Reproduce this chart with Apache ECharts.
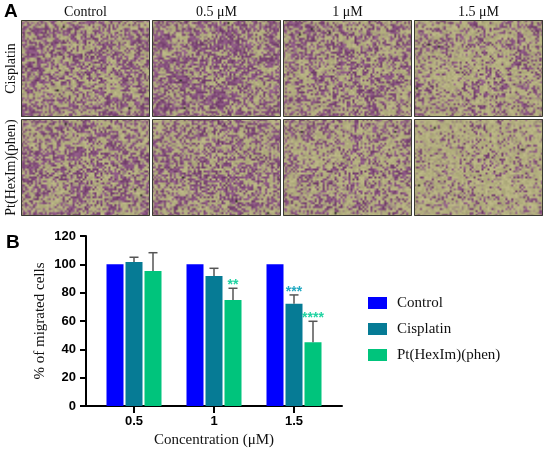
<!DOCTYPE html>
<html>
<head>
<meta charset="utf-8">
<script src="https://cdn.jsdelivr.net/npm/echarts@6/dist/echarts.min.js"></script>
<style>
html,body{margin:0;padding:0;background:#fff;}
#main{width:550px;height:452px;}
</style>
</head>
<body>
<div id="main"></div>
<script>
// ---- Data ----
const concentrations = [0.5, 1, 1.5];
const seriesNames = ['Control', 'Cisplatin', 'Pt(HexIm)(phen)'];
const controlValues = [100, 100, 100];
const cisplatinValues = [101.6, 91.8, 72.2];
const cisplatinErrTop = [105, 97.2, 78.4];
const ptValues = [95.3, 74.8, 45];
const ptErrTop = [108.2, 83.1, 59.8];
const cisplatinSig = ['', '', '***'];
const ptSig = ['', '**', '****'];
const yTicks = [0, 20, 40, 60, 80, 100, 120];

// Panel A labels
const columnTitles = ['Control', '0.5 \u03bcM', '1 \u03bcM', '1.5 \u03bcM'];
const rowTitles = ['Cisplatin', 'Pt(HexIm)(phen)'];
const stainDensity = [[0.44, 0.50, 0.40, 0.28], [0.44, 0.40, 0.33, 0.16]];

const colors = ['#0000ff', '#067b95', '#00c47c'];
const sigColors = ['#23a9c2', '#21d3a2'];
const BAR_W = 17, BAR_GAP = 2;

// ---- Micrograph-like textures (decoration only) ----
function makeTexture(w, h, density, seed) {
  const w2 = Math.ceil(w / 2), h2 = Math.ceil(h / 2);
  const c = document.createElement('canvas');
  c.width = w2; c.height = h2;
  const ctx = c.getContext('2d');
  const img = ctx.createImageData(w2, h2);
  let s = seed >>> 0;
  const hash = () => { s = (Math.imul(s, 1664525) + 1013904223) >>> 0; return s / 4294967296; };
  const G = 4;
  const gw = Math.ceil(w2 / G) + 2, gh = Math.ceil(h2 / G) + 2;
  const field = [];
  for (let i = 0; i < gw * gh; i++) field.push(hash());
  const fAt = (x, y) => {
    const gx = x / G, gy = y / G;
    const x0 = Math.floor(gx), y0 = Math.floor(gy), tx = gx - x0, ty = gy - y0;
    const a = field[y0 * gw + x0], b = field[y0 * gw + x0 + 1];
    const c2 = field[(y0 + 1) * gw + x0], d = field[(y0 + 1) * gw + x0 + 1];
    return (a * (1 - tx) + b * tx) * (1 - ty) + (c2 * (1 - tx) + d * tx) * ty;
  };
  for (let y = 0; y < h2; y++) {
    for (let x = 0; x < w2; x++) {
      const f = fAt(x, y);
      const p = density * (0.3 + 1.4 * f);
      const n = hash();
      let r, g, b;
      if (n < p) {
        const t = hash();
        r = 108 + t * 45; g = 55 + t * 45; b = 102 + t * 40;
      } else if (n < p + 0.12) {
        const t = hash();
        r = 150 + t * 20; g = 130 + t * 20; b = 120 + t * 15;
      } else {
        const t = hash() * 24 - 12;
        r = 180 + t; g = 176 + t; b = 128 + t * 0.8;
      }
      const k = (y * w2 + x) * 4;
      img.data[k] = r; img.data[k + 1] = g; img.data[k + 2] = b; img.data[k + 3] = 255;
    }
  }
  ctx.putImageData(img, 0, 0);
  for (let k = 0; k < 3; k++) {
    ctx.fillStyle = '#2a2a22';
    ctx.fillRect(Math.floor(hash() * w2), Math.floor(hash() * h2), 1, 1);
  }
  return c;
}

const graphics = [];
const cellX = [21, 152, 283, 414], cellY = [20, 119], cellW = 129, cellH = 97;
graphics.push({type: 'text', left: 4, top: 2, style: {text: 'A', font: 'bold 19px "Liberation Sans", Arial, sans-serif', fill: '#000'}});
graphics.push({type: 'text', left: 6, top: 233, style: {text: 'B', font: 'bold 19px "Liberation Sans", Arial, sans-serif', fill: '#000'}});
columnTitles.forEach((t, i) => {
  graphics.push({type: 'text', x: cellX[i] + cellW / 2, y: 12,
    style: {text: t, x: 0, y: 0, align: 'center', verticalAlign: 'middle', font: '14px "Liberation Serif", "Times New Roman", serif', fill: '#111'}});
});
rowTitles.forEach((t, r) => {
  graphics.push({type: 'text', x: 11, y: cellY[r] + cellH / 2, rotation: Math.PI / 2,
    style: {text: t, x: 0, y: 0, align: 'center', verticalAlign: 'middle', font: '14px "Liberation Serif", "Times New Roman", serif', fill: '#111'}});
  for (let c = 0; c < 4; c++) {
    graphics.push({type: 'image', x: cellX[c], y: cellY[r],
      style: {image: makeTexture(cellW, cellH, stainDensity[r][c], 12345 + r * 97 + c * 31), width: cellW, height: cellH}});
    graphics.push({type: 'rect', shape: {x: cellX[c] + 0.5, y: cellY[r] + 0.5, width: cellW - 1, height: cellH - 1},
      style: {fill: 'none', stroke: '#3a3a32', lineWidth: 1}});
  }
});

// ---- Chart ----
const chart = echarts.init(document.getElementById('main'), null, {renderer: 'canvas'});

function errorSeries(name, values, tops, sig, idx, sigColor) {
  const data = concentrations.map((c, i) => [c, values[i], tops[i], sig[i]]);
  const offset = (idx - 1) * (BAR_W + BAR_GAP);
  return {
    type: 'custom', name: name, silent: true, z: 5,
    encode: {x: 0, y: [1, 2]},
    data: data,
    renderItem: function (params, api) {
      const base = api.coord([api.value(0), api.value(1)]);
      const top = api.coord([api.value(0), api.value(2)]);
      const x = base[0] + offset;
      const children = [
        {type: 'line', shape: {x1: x, y1: base[1], x2: x, y2: top[1]}, style: {stroke: '#555', lineWidth: 1.5}},
        {type: 'line', shape: {x1: x - 4.5, y1: top[1], x2: x + 4.5, y2: top[1]}, style: {stroke: '#555', lineWidth: 1.5}}
      ];
      const s = data[params.dataIndex][3];
      if (s) {
        children.push({type: 'text', x: x, y: top[1] - 3,
          style: {text: s, x: 0, y: 0, align: 'center', verticalAlign: 'middle', font: 'bold 14px "Liberation Sans", Arial, sans-serif', fill: sigColor}});
      }
      return {type: 'group', children: children};
    }
  };
}

const option = {
  animation: false,
  backgroundColor: '#fff',
  graphic: graphics,
  grid: {left: 86, right: 208, top: 236, bottom: 46},
  legend: {
    data: seriesNames,
    orient: 'vertical', left: 363, top: 290,
    itemWidth: 19, itemHeight: 12, itemGap: 10,
    icon: 'rect',
    textStyle: {fontFamily: '"Liberation Serif", "Times New Roman", serif', fontSize: 15, color: '#111', lineHeight: 16, padding: [0, 0, 0, 5]}
  },
  xAxis: {
    type: 'value', min: 0.2, max: 1.8,
    name: 'Concentration (\u03bcM)', nameLocation: 'middle', nameGap: 27,
    nameTextStyle: {fontFamily: '"Liberation Serif", "Times New Roman", serif', fontSize: 15, color: '#111'},
    splitLine: {show: false},
    axisLine: {show: true, lineStyle: {color: '#000', width: 2}},
    axisTick: {show: true, length: 7, lineStyle: {color: '#000', width: 2}, customValues: concentrations},
    axisLabel: {customValues: concentrations, margin: 9, formatter: v => String(v),
      fontFamily: '"Liberation Sans", Arial, sans-serif', fontWeight: 'bold', fontSize: 13, color: '#000'}
  },
  yAxis: {
    type: 'value', min: 0, max: 120, interval: 20,
    name: '% of migrated cells', nameLocation: 'middle', nameGap: 38,
    nameTextStyle: {fontFamily: '"Liberation Serif", "Times New Roman", serif', fontSize: 15, color: '#111'},
    splitLine: {show: false},
    axisLine: {show: true, lineStyle: {color: '#000', width: 2}},
    axisTick: {show: true, length: 6, lineStyle: {color: '#000', width: 2}},
    axisLabel: {margin: 10, fontFamily: '"Liberation Sans", Arial, sans-serif', fontWeight: 'bold', fontSize: 13, color: '#000',
      customValues: yTicks}
  },
  series: [
    {type: 'bar', name: seriesNames[0], data: concentrations.map((c, i) => [c, controlValues[i]]), barWidth: BAR_W, barGap: (BAR_GAP / BAR_W * 100) + '%', itemStyle: {color: colors[0]}},
    {type: 'bar', name: seriesNames[1], data: concentrations.map((c, i) => [c, cisplatinValues[i]]), barWidth: BAR_W, barGap: (BAR_GAP / BAR_W * 100) + '%', itemStyle: {color: colors[1]}},
    {type: 'bar', name: seriesNames[2], data: concentrations.map((c, i) => [c, ptValues[i]]), barWidth: BAR_W, barGap: (BAR_GAP / BAR_W * 100) + '%', itemStyle: {color: colors[2]}},
    errorSeries('errCis', cisplatinValues, cisplatinErrTop, cisplatinSig, 1, sigColors[0]),
    errorSeries('errPt', ptValues, ptErrTop, ptSig, 2, sigColors[1])
  ]
};
chart.setOption(option);
</script>
</body>
</html>
